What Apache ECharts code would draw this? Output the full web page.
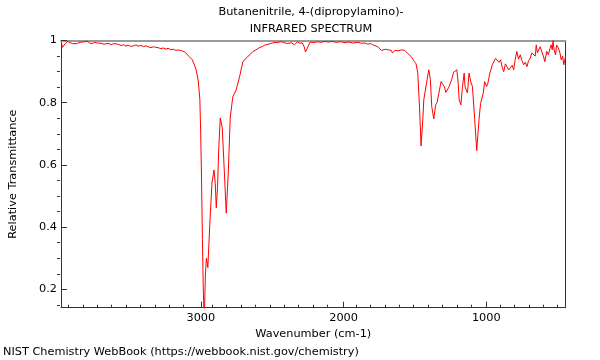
<!DOCTYPE html>
<html>
<head>
<meta charset="utf-8">
<script src="https://cdn.jsdelivr.net/npm/echarts@6/dist/echarts.min.js"></script>
<style>html,body{margin:0;padding:0;background:#fff}#c{width:600px;height:360px}</style>
</head>
<body>
<div id="c"></div>
<script>
const titleLines = ["Butanenitrile, 4-(dipropylamino)-", "INFRARED SPECTRUM"];
const xName = "Wavenumber (cm-1)";
const yName = "Relative Transmittance";
const footer = "NIST Chemistry WebBook (https://webbook.nist.gov/chemistry)";
const xMajorTicks = [1000, 2000, 3000];
const yMajorTicks = [0.2, 0.4, 0.6, 0.8, 1];
const xRange = [445, 3980];
const yRange = [0.141, 1.0];

const wavenumbers = [
 3978,3970,3960,3950,3935,3915,3900,3887,3872,3859,3845,3831,3815,3797,3780,3762,3745,3727,3715,3700,3690,3678,3665,3650,3630,3609,3595,3580,3560,3540,3525,3510,3490,3470,3455,3440,3420,3401,3385,3370,3350,3331,3315,3300,3280,3262,3245,3230,3210,3192,3175,3160,3148,3137,3125,3115,3102,3081,3060,3053,3040,3033,3019,3007,3001,2996,2989,2984,2979,2974,2968,2961,2951,2937,2922,2908,2899,2892,2883,2875,2864,2850,2833,2822,2808,2794,2776,2753,2729,2706,2690,2672,2655,2637,2620,2600,2585,2567,2550,2530,2515,2498,2480,2460,2445,2428,2410,2393,2380,2366,2345,2324,2305,2290,2276,2267,2255,2234,2210,2185,2160,2130,2105,2081,2050,2020,1990,1965,1935,1900,1875,1850,1830,1810,1795,1781,1760,1746,1735,1722,1706,1698,1688,1675,1665,1658,1648,1640,1628,1618,1605,1595,1583,1572,1560,1549,1538,1526,1514,1503,1492,1480,1468,1457,1445,1438,1427,1415,1403,1392,1382,1368,1355,1345,1333,1317,1304,1294,1283,1260,1243,1229,1218,1206,1197,1190,1178,1167,1155,1149,1132,1121,1109,1097,1081,1067,1051,1040,1021,1012,998,989,975,958,935,925,912,900,889,878,866,855,843,830,819,808,797,786,774,762,750,738,727,715,704,692,681,670,657,650,642,632,623,612,600,590,576,565,553,545,538,532,525,515,507,495,484,475,465,457,449,445
];
const transmittance = [
 0.995,0.978,0.976,0.99,0.997,0.993,0.99,0.985,0.99,0.988,0.994,0.993,0.996,0.998,0.992,0.99,0.994,0.992,0.988,0.991,0.986,0.988,0.992,0.991,0.987,0.99,0.985,0.988,0.984,0.986,0.982,0.985,0.981,0.983,0.986,0.982,0.984,0.98,0.983,0.98,0.977,0.98,0.978,0.977,0.974,0.976,0.972,0.975,0.97,0.972,0.968,0.97,0.965,0.967,0.962,0.964,0.958,0.948,0.938,0.932,0.915,0.905,0.873,0.81,0.70,0.574,0.36,0.22,0.13,0.14,0.25,0.30,0.27,0.413,0.542,0.584,0.54,0.462,0.53,0.648,0.751,0.719,0.552,0.445,0.574,0.754,0.819,0.841,0.883,0.931,0.94,0.948,0.955,0.964,0.968,0.974,0.978,0.981,0.986,0.987,0.99,0.992,0.994,0.993,0.996,0.995,0.992,0.99,0.984,0.993,0.986,0.995,0.991,0.993,0.98,0.963,0.975,0.995,0.993,0.996,0.994,0.997,0.995,0.997,0.994,0.996,0.993,0.995,0.992,0.994,0.991,0.992,0.988,0.99,0.986,0.986,0.98,0.977,0.968,0.963,0.972,0.966,0.97,0.964,0.968,0.96,0.962,0.968,0.963,0.967,0.962,0.97,0.965,0.968,0.962,0.958,0.954,0.948,0.945,0.932,0.925,0.895,0.787,0.661,0.745,0.809,0.804,0.874,0.906,0.874,0.787,0.748,0.793,0.80,0.804,0.868,0.874,0.852,0.833,0.852,0.874,0.898,0.898,0.906,0.863,0.809,0.793,0.852,0.895,0.852,0.831,0.895,0.868,0.852,0.745,0.646,0.745,0.798,0.831,0.868,0.852,0.863,0.895,0.922,0.943,0.945,0.93,0.938,0.915,0.90,0.925,0.922,0.905,0.911,0.92,0.906,0.94,0.965,0.94,0.954,0.935,0.922,0.93,0.916,0.935,0.943,0.96,0.965,0.95,0.986,0.96,0.954,0.98,0.976,0.95,0.932,0.965,0.954,0.975,0.986,0.97,1.0,0.97,0.954,0.985,0.976,0.96,0.938,0.95,0.922,0.94,0.949,0.95
];

const spectrum = wavenumbers.map((w, i) => [w, transmittance[i]]);
const xMinor = [];
for (let v = 500; v <= 3900; v += 100) if (v % 1000 !== 0) xMinor.push(v);
const yMinor = [];
for (let k = 3; k <= 19; k++) { if (k % 4 !== 0) yMinor.push(+(k * 0.05).toFixed(2)); }

const FONT = 'DejaVu Sans';
const FS = 11.3;
const gridRect = { left: 57, right: 34.5, top: 40.5, bottom: 52.3 };
const txt = { fontFamily: FONT, fontSize: FS, color: '#000' };
const gfont = FS + 'px "DejaVu Sans"';

const chart = echarts.init(document.getElementById('c'), null, { renderer: 'canvas' });
chart.setOption({
  animation: false,
  backgroundColor: '#fff',
  grid: [Object.assign({ containLabel: false }, gridRect), Object.assign({ containLabel: false }, gridRect)],
  graphic: [
    { type: 'text', x: 311, y: 7, style: { text: titleLines[0], textAlign: 'center', font: gfont, fill: '#000' } },
    { type: 'text', x: 311, y: 23.5, style: { text: titleLines[1], textAlign: 'center', font: gfont, fill: '#000' } },
    { type: 'text', x: 3, y: 347, style: { text: footer, font: gfont, fill: '#000' } }
  ],
  xAxis: [
    { type: 'value', gridIndex: 0, position: 'bottom', inverse: true, min: xRange[0], max: xRange[1],
      name: xName, nameLocation: 'middle', nameGap: 19, nameTextStyle: txt,
      axisLine: { show: true, lineStyle: { color: '#333', width: 1 } },
      axisTick: { show: true, inside: true, length: 6, customValues: xMajorTicks, lineStyle: { color: '#333' } },
      axisLabel: { show: true, margin: 5, customValues: xMajorTicks, fontFamily: FONT, fontSize: FS, color: '#000',
        formatter: v => String(Math.round(v)) },
      splitLine: { show: false } },
    { type: 'value', gridIndex: 0, position: 'top', inverse: true, min: xRange[0], max: xRange[1],
      axisLine: { show: true, lineStyle: { color: '#9a9a9a', width: 2 } },
      axisTick: { show: false }, axisLabel: { show: false }, splitLine: { show: false } },
    { type: 'value', gridIndex: 1, position: 'bottom', inverse: true, min: xRange[0], max: xRange[1],
      axisLine: { show: false },
      axisTick: { show: true, inside: true, length: 3, customValues: xMinor, lineStyle: { color: '#333' } },
      axisLabel: { show: false }, splitLine: { show: false } }
  ],
  yAxis: [
    { type: 'value', gridIndex: 0, position: 'left', min: yRange[0], max: yRange[1],
      name: yName, nameLocation: 'middle', nameGap: 42, nameTextStyle: txt,
      axisLine: { show: true, lineStyle: { color: '#333', width: 1 } },
      axisTick: { show: true, inside: true, length: 6, customValues: yMajorTicks, lineStyle: { color: '#333' } },
      axisLabel: { show: true, margin: 4, customValues: yMajorTicks, fontFamily: FONT, fontSize: FS, color: '#000',
        formatter: v => String(+(+v).toFixed(2)) },
      splitLine: { show: false } },
    { type: 'value', gridIndex: 0, position: 'right', min: yRange[0], max: yRange[1],
      axisLine: { show: true, lineStyle: { color: '#333', width: 1 } },
      axisTick: { show: false }, axisLabel: { show: false }, splitLine: { show: false } },
    { type: 'value', gridIndex: 1, position: 'left', min: yRange[0], max: yRange[1],
      axisLine: { show: false },
      axisTick: { show: true, inside: true, length: 3, customValues: yMinor, lineStyle: { color: '#333' } },
      axisLabel: { show: false }, splitLine: { show: false } }
  ],
  series: [
    { type: 'line', xAxisIndex: 0, yAxisIndex: 0, data: spectrum, showSymbol: false, symbol: 'none',
      clip: true, lineStyle: { color: '#ff0000', width: 1 }, emphasis: { disabled: true } }
  ]
});
</script>
</body>
</html>
